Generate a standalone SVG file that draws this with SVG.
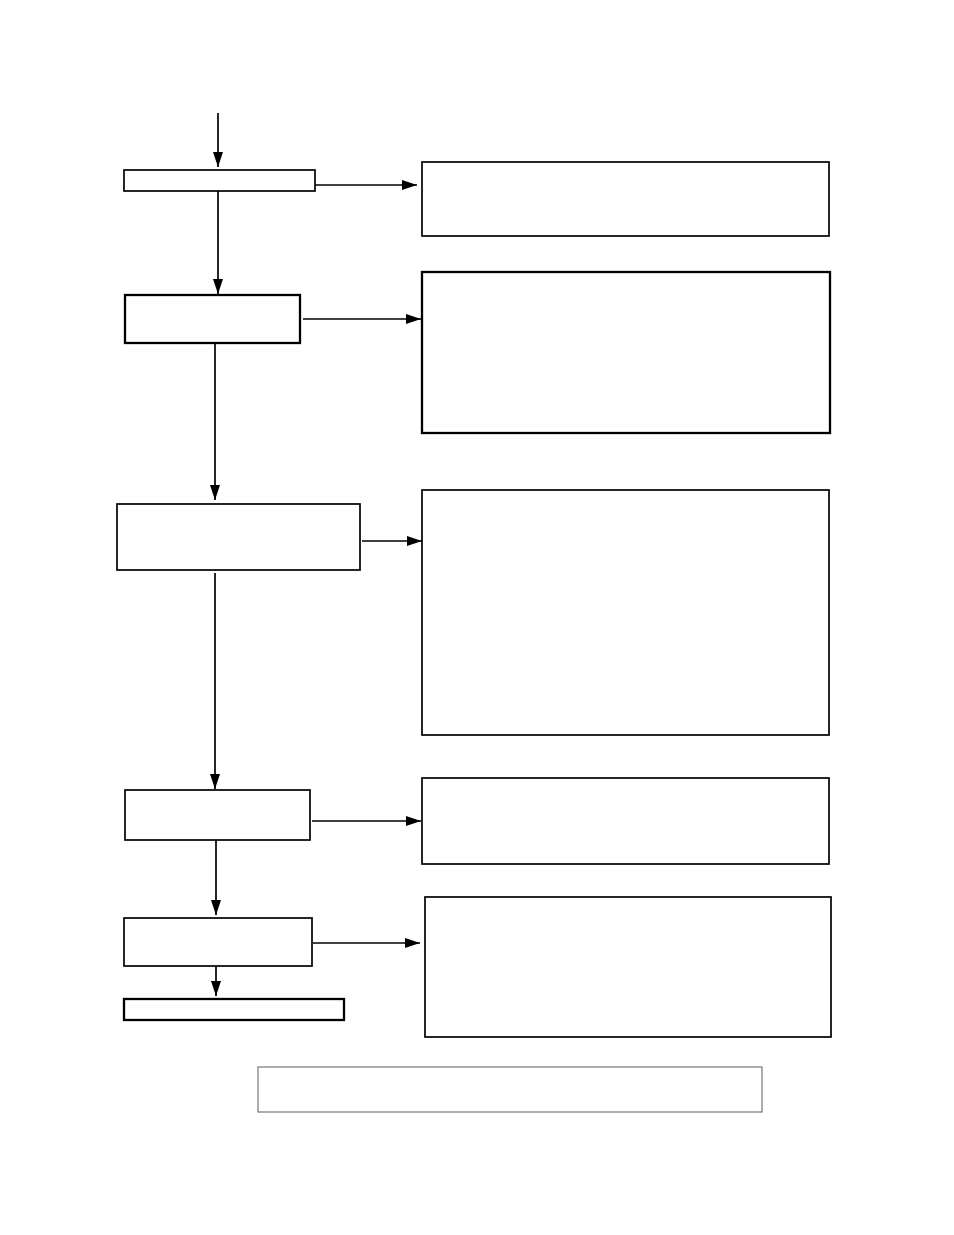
<svg xmlns="http://www.w3.org/2000/svg" width="954" height="1235" viewBox="0 0 954 1235">
<style>
.box{fill:#fff;stroke:#000;stroke-width:1.7}
.thick{stroke-width:2.3}
.note{fill:#fff;stroke:#777;stroke-width:1.2}
.con{stroke:#000;stroke-width:1.7;fill:none}
</style>
<defs>
<marker id="ah" markerUnits="userSpaceOnUse" markerWidth="16" markerHeight="11" refX="15" refY="5" orient="auto">
<path d="M0,0 L15,5 L0,10 Z" fill="#000"/>
</marker>
</defs>
<rect width="954" height="1235" fill="#fff"/>
<g id="connectors">
<line class="con" x1="218" y1="113" x2="218" y2="167" marker-end="url(#ah)"/>
<line class="con" x1="315" y1="185" x2="417" y2="185" marker-end="url(#ah)"/>
<line class="con" x1="218" y1="191" x2="218" y2="294" marker-end="url(#ah)"/>
<line class="con" x1="303" y1="319" x2="421" y2="319" marker-end="url(#ah)"/>
<line class="con" x1="215" y1="344" x2="215" y2="500" marker-end="url(#ah)"/>
<line class="con" x1="362" y1="541" x2="422" y2="541" marker-end="url(#ah)"/>
<line class="con" x1="215" y1="573" x2="215" y2="789" marker-end="url(#ah)"/>
<line class="con" x1="312" y1="821" x2="421" y2="821" marker-end="url(#ah)"/>
<line class="con" x1="216" y1="840" x2="216" y2="915" marker-end="url(#ah)"/>
<line class="con" x1="313" y1="943" x2="420" y2="943" marker-end="url(#ah)"/>
<line class="con" x1="216" y1="966" x2="216" y2="996" marker-end="url(#ah)"/>
</g>
<g id="n1"><rect class="box" x="124" y="170" width="191" height="21"/></g>
<g id="n2"><rect class="box thick" x="125" y="295" width="175" height="48"/></g>
<g id="n3"><rect class="box" x="117" y="504" width="243" height="66"/></g>
<g id="n4"><rect class="box" x="125" y="790" width="185" height="50"/></g>
<g id="n5"><rect class="box" x="124" y="918" width="188" height="48"/></g>
<g id="n6"><rect class="box thick" x="124" y="999" width="220" height="21"/></g>
<g id="r1"><rect class="box" x="422" y="162" width="407" height="74"/></g>
<g id="r2"><rect class="box thick" x="422" y="272" width="408" height="161"/></g>
<g id="r3"><rect class="box" x="422" y="490" width="407" height="245"/></g>
<g id="r4"><rect class="box" x="422" y="778" width="407" height="86"/></g>
<g id="r5"><rect class="box" x="425" y="897" width="406" height="140"/></g>
<g id="note"><rect class="note" x="258" y="1067" width="504" height="45"/></g>
</svg>
